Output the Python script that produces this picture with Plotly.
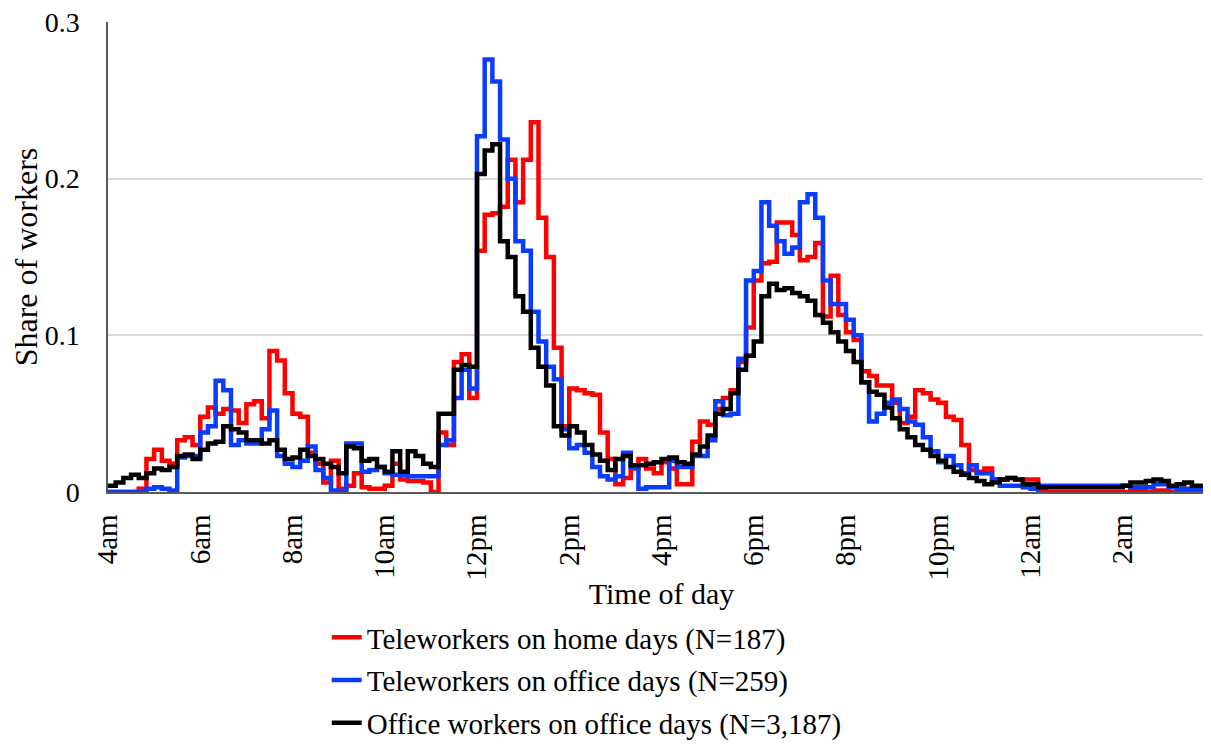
import plotly.graph_objects as go

# Time of day, 10-minute steps from 4:00 (hours since midnight, 28 = 4am next day)
start_hour = 4
step_minutes = 10

tick_hours = [4, 6, 8, 10, 12, 14, 16, 18, 20, 22, 24, 26]
tick_labels = ["4am", "6am", "8am", "10am", "12pm", "2pm", "4pm", "6pm", "8pm", "10pm", "12am", "2am"]

# Teleworkers on home days (N=187) -- one row per hour, 10-minute values
tele_home = [
    0.000, 0.000, 0.000, 0.000, 0.002, 0.021,   # 4am
    0.027, 0.020, 0.018, 0.033, 0.035, 0.030,   # 5am
    0.048, 0.054, 0.050, 0.053, 0.052, 0.044,   # 6am
    0.056, 0.058, 0.047, 0.090, 0.084, 0.063,   # 7am
    0.050, 0.048, 0.025, 0.018, 0.006, 0.020,   # 8am
    0.002, 0.004, 0.012, 0.003, 0.002, 0.002,   # 9am
    0.004, 0.018, 0.008, 0.007, 0.007, 0.006,   # 10am
    0.000, 0.038, 0.030, 0.083, 0.088, 0.060,   # 11am
    0.154, 0.177, 0.178, 0.182, 0.212, 0.185,   # 12pm
    0.212, 0.236, 0.175, 0.150, 0.092, 0.042,   # 1pm
    0.066, 0.065, 0.063, 0.062, 0.038, 0.021,   # 2pm
    0.005, 0.009, 0.015, 0.021, 0.015, 0.012,   # 3pm
    0.019, 0.015, 0.005, 0.005, 0.032, 0.045,   # 4pm
    0.043, 0.053, 0.060, 0.065, 0.083, 0.105,   # 5pm
    0.135, 0.146, 0.147, 0.172, 0.172, 0.164,   # 6pm
    0.148, 0.150, 0.159, 0.112, 0.138, 0.113,   # 7pm
    0.102, 0.097, 0.077, 0.074, 0.068, 0.068,   # 8pm
    0.057, 0.044, 0.048, 0.065, 0.063, 0.059,   # 9pm
    0.057, 0.048, 0.046, 0.030, 0.014, 0.013,   # 10pm
    0.015, 0.008, 0.008, 0.009, 0.008, 0.008,   # 11pm
    0.008, 0.001, 0.000, 0.000, 0.000, 0.000,   # 12am
    0.000, 0.000, 0.000, 0.000, 0.000, 0.000,   # 1am
    0.000, 0.001, 0.001, 0.000, 0.001, 0.001,   # 2am
    0.000, 0.000, 0.000, 0.000, 0.000, 0.000,   # 3am
]

# Teleworkers on office days (N=259)
tele_office = [
    0.000, 0.000, 0.000, 0.000, 0.000, 0.002,   # 4am
    0.003, 0.002, 0.001, 0.022, 0.023, 0.023,   # 5am
    0.038, 0.042, 0.071, 0.065, 0.030, 0.033,   # 6am
    0.031, 0.031, 0.040, 0.052, 0.023, 0.018,   # 7am
    0.016, 0.020, 0.029, 0.014, 0.009, 0.001,   # 8am
    0.000, 0.031, 0.031, 0.013, 0.014, 0.016,   # 9am
    0.012, 0.011, 0.011, 0.010, 0.010, 0.010,   # 10am
    0.010, 0.030, 0.033, 0.060, 0.078, 0.066,   # 11am
    0.227, 0.276, 0.262, 0.225, 0.200, 0.160,   # 12pm
    0.154, 0.115, 0.096, 0.080, 0.072, 0.040,   # 1pm
    0.028, 0.030, 0.025, 0.016, 0.010, 0.008,   # 2pm
    0.010, 0.025, 0.016, 0.002, 0.003, 0.003,   # 3pm
    0.003, 0.020, 0.016, 0.016, 0.023, 0.023,   # 4pm
    0.033, 0.058, 0.049, 0.050, 0.085, 0.135,   # 5pm
    0.141, 0.185, 0.170, 0.160, 0.152, 0.156,   # 6pm
    0.185, 0.190, 0.175, 0.135, 0.120, 0.120,   # 7pm
    0.110, 0.100, 0.070, 0.045, 0.050, 0.057,   # 8pm
    0.059, 0.053, 0.045, 0.043, 0.035, 0.026,   # 9pm
    0.019, 0.023, 0.017, 0.012, 0.017, 0.012,   # 10pm
    0.012, 0.008, 0.004, 0.004, 0.004, 0.003,   # 11pm
    0.002, 0.004, 0.004, 0.004, 0.004, 0.004,   # 12am
    0.004, 0.004, 0.004, 0.004, 0.004, 0.004,   # 1am
    0.004, 0.003, 0.003, 0.003, 0.005, 0.005,   # 2am
    0.003, 0.002, 0.002, 0.002, 0.002, 0.002,   # 3am
]

# Office workers on office days (N=3,187)
office_office = [
    0.004, 0.006, 0.009, 0.011, 0.009, 0.012,   # 4am
    0.015, 0.014, 0.016, 0.023, 0.024, 0.021,   # 5am
    0.027, 0.031, 0.032, 0.042, 0.040, 0.038,   # 6am
    0.033, 0.033, 0.031, 0.033, 0.027, 0.021,   # 7am
    0.022, 0.027, 0.023, 0.021, 0.018, 0.016,   # 8am
    0.012, 0.029, 0.028, 0.020, 0.021, 0.016,   # 9am
    0.013, 0.026, 0.013, 0.026, 0.023, 0.018,   # 10am
    0.016, 0.050, 0.050, 0.078, 0.081, 0.080,   # 11am
    0.203, 0.218, 0.222, 0.160, 0.150, 0.125,   # 12pm
    0.115, 0.092, 0.080, 0.068, 0.042, 0.036,   # 1pm
    0.042, 0.038, 0.030, 0.024, 0.020, 0.014,   # 2pm
    0.021, 0.023, 0.017, 0.017, 0.018, 0.019,   # 3pm
    0.021, 0.022, 0.019, 0.018, 0.024, 0.029,   # 4pm
    0.036, 0.050, 0.053, 0.063, 0.078, 0.087,   # 5pm
    0.096, 0.125, 0.133, 0.129, 0.130, 0.127,   # 6pm
    0.125, 0.122, 0.113, 0.108, 0.102, 0.096,   # 7pm
    0.090, 0.083, 0.070, 0.064, 0.062, 0.054,   # 8pm
    0.047, 0.040, 0.035, 0.030, 0.027, 0.023,   # 9pm
    0.020, 0.016, 0.013, 0.011, 0.009, 0.007,   # 10pm
    0.005, 0.006, 0.008, 0.009, 0.008, 0.005,   # 11pm
    0.005, 0.003, 0.003, 0.003, 0.003, 0.003,   # 12am
    0.003, 0.003, 0.003, 0.003, 0.003, 0.003,   # 1am
    0.004, 0.006, 0.006, 0.007, 0.008, 0.007,   # 2am
    0.004, 0.005, 0.006, 0.004, 0.004, 0.004,   # 3am
]

series_names = [
    "Teleworkers on home days (N=187)",
    "Teleworkers on office days (N=259)",
    "Office workers on office days (N=3,187)",
]
series_values = [tele_home, tele_office, office_office]
series_colors = ["#FF0000", "#0A3CFF", "#000000"]

hours = [start_hour + i * step_minutes / 60 for i in range(len(tele_home))]

FONT = "Liberation Serif, Times New Roman, serif"

fig = go.Figure()
for i, (name, vals, col) in enumerate(zip(series_names, series_values, series_colors)):
    fig.add_trace(go.Scatter(
        x=hours + [28.0], y=vals + [vals[-1]],
        mode="lines", name=name, legendgroup=f"g{i}",
        line=dict(color=col, width=4.5, shape="hv"),
    ))

fig.update_layout(
    width=1211, height=745,
    margin=dict(l=100, r=4, t=14, b=259),
    paper_bgcolor="white", plot_bgcolor="white",
    font=dict(family=FONT, color="black", size=29),
    showlegend=True,
    legend=dict(
        x=0.1976, xanchor="left", y=-0.5466, yanchor="bottom",
        orientation="v", traceorder="grouped", tracegroupgap=2,
        font=dict(family=FONT, size=29, color="black"),
        bgcolor="rgba(0,0,0,0)",
    ),
    xaxis=dict(
        range=[4, 28], tickmode="array", tickvals=tick_hours, ticktext=tick_labels,
        tickangle=-90, showgrid=False, zeroline=False, automargin=False,
        showline=True, linecolor="#595959", linewidth=1.5,
        ticks="", ticklabelstandoff=9,
        tickfont=dict(family=FONT, size=29, color="black"),
        title=dict(text="Time of day", font=dict(family=FONT, size=30, color="black"), standoff=4),
    ),
    yaxis=dict(
        range=[0, 0.3], tickmode="array", tickvals=[0, 0.1, 0.2, 0.3],
        ticktext=["0", "0.1", "0.2", "0.3"],
        showgrid=True, gridcolor="#D9D9D9", gridwidth=1.5, zeroline=False, automargin=False,
        showline=True, linecolor="#595959", linewidth=1.5,
        ticks="", ticklabelstandoff=21, ticklabeloverflow="allow",
        tickfont=dict(family=FONT, size=28, color="black"),
        title=dict(text="Share of workers", font=dict(family=FONT, size=32, color="black"), standoff=13),
    ),
)

fig.write_html("out.html")
